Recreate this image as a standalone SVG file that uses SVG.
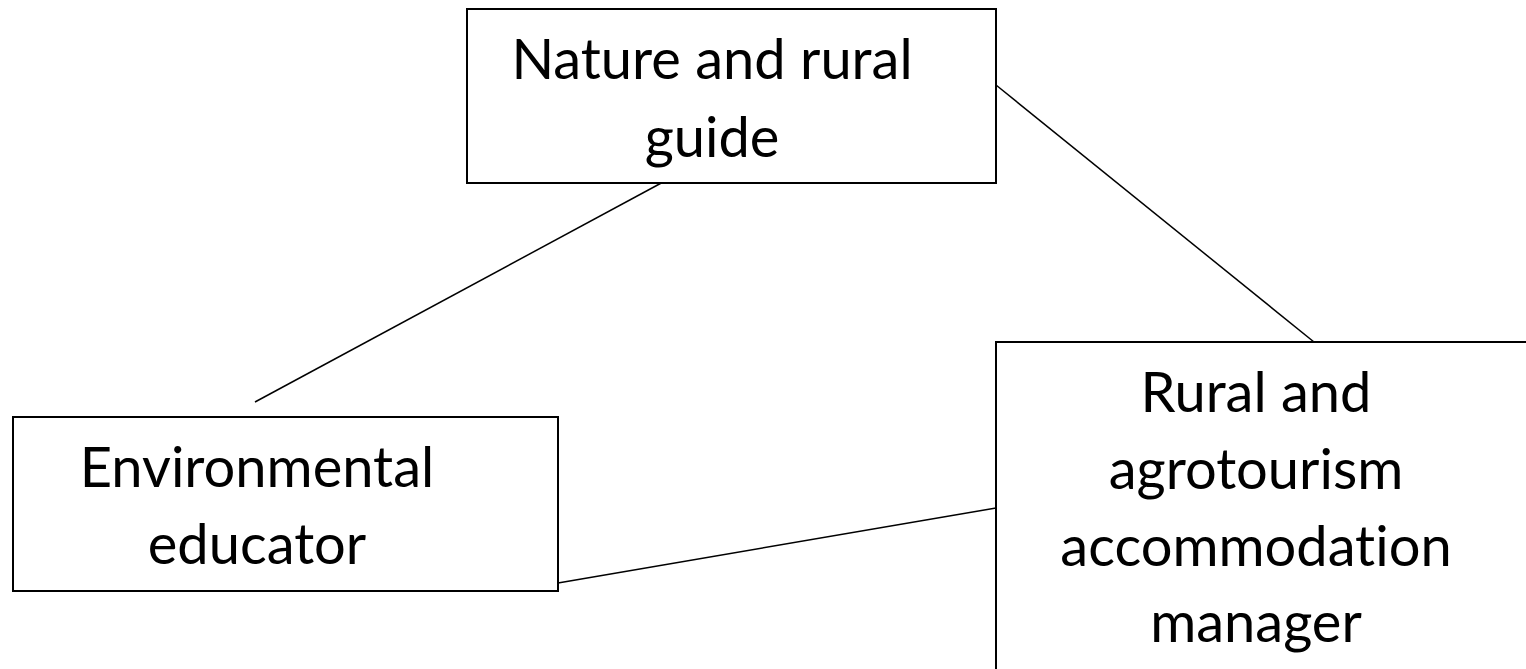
<svg xmlns="http://www.w3.org/2000/svg" width="1526" height="669" viewBox="0 0 1526 669">
<style>
.box{fill:#fff;stroke:#000;stroke-width:2}
.conn{stroke:#000;stroke-width:1.5;fill:none}
.lbl{font-family:Lato,"Liberation Sans",sans-serif;font-size:56px;fill:#000;text-anchor:middle;font-variant-ligatures:none;font-feature-settings:"liga" 0,"clig" 0,"dlig" 0}
</style>
<rect width="1526" height="669" fill="#fff"/>
<g id="connectors">
<line class="conn" x1="678" y1="174" x2="255" y2="402"/>
<line class="conn" x1="996" y1="85" x2="1314" y2="342"/>
<line class="conn" x1="558" y1="583" x2="996" y2="508"/>
</g>
<g id="node-guide">
<rect class="box" x="467" y="9" width="529" height="174"/>
<text class="lbl" x="712" y="79">Nature and rural</text>
<text class="lbl" x="712" y="157">guide</text>
</g>
<g id="node-educator">
<rect class="box" x="13" y="417" width="545" height="174"/>
<text class="lbl" x="257" y="487">Environmental</text>
<text class="lbl" x="257" y="564">educator</text>
</g>
<g id="node-manager">
<rect class="box" x="996" y="342" width="600" height="400"/>
<text class="lbl" x="1256" y="412">Rural and</text>
<text class="lbl" x="1256" y="489">agrotourism</text>
<text class="lbl" x="1256" y="566">accommodation</text>
<text class="lbl" x="1256" y="642">manager</text>
</g>
</svg>
